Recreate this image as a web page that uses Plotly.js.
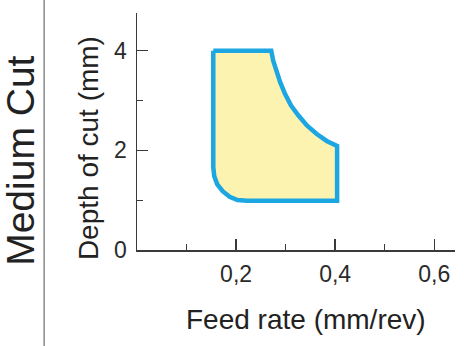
<!DOCTYPE html>
<html>
<head>
<meta charset="utf-8">
<script src="https://cdn.plot.ly/plotly-3.0.1.min.js"></script>
<style>
html,body{margin:0;padding:0;background:#fff;}
#chart{width:471px;height:346px;}
</style>
</head>
<body>
<div id="chart"></div>
<script>
// Outline of the "Medium Cut" working region (feed rate mm/rev, depth of cut mm)
const feedRate = [0.154, 0.271, 0.275, 0.281, 0.289, 0.299, 0.311, 0.326, 0.343, 0.363, 0.383, 0.404, 0.404,
                  0.222, 0.203, 0.187, 0.173, 0.162, 0.156, 0.154, 0.154];
const depthOfCut = [4.0, 4.0, 3.80, 3.60, 3.37, 3.13, 2.90, 2.70, 2.50, 2.33, 2.19, 2.09, 0.99,
                    0.99, 1.005, 1.07, 1.18, 1.32, 1.48, 1.66, 4.0];

const xTickVals = [0.2, 0.4, 0.6];
const xTickText = ["0,2", "0,4", "0,6"];
const yTickVals = [0, 2, 4];
const yTickText = ["0", "2", "4"];

const sectionLabel = "Medium Cut";
const xTitle = "Feed rate (mm/rev)";
const yTitle = "Depth of cut (mm)";

const font = "Liberation Sans, Arial, sans-serif";
const axisColor = "#3a3a3a";

const trace = {
  x: feedRate,
  y: depthOfCut,
  type: "scatter",
  mode: "lines",
  fill: "toself",
  fillcolor: "#fdf3b0",
  line: {color: "#1ca6e2", width: 4.5},
  hoverinfo: "skip"
};

const layout = {
  width: 471,
  height: 346,
  margin: {l: 137, r: 16, t: 13, b: 96},
  paper_bgcolor: "#ffffff",
  plot_bgcolor: "#ffffff",
  showlegend: false,
  xaxis: {
    range: [0, 0.642],
    showgrid: false,
    zeroline: false,
    showline: true,
    linecolor: axisColor,
    linewidth: 1.5,
    ticks: "inside",
    ticklen: 11,
    tickwidth: 1.3,
    tickcolor: axisColor,
    tickvals: xTickVals,
    ticktext: xTickText,
    tickfont: {family: font, size: 23, color: "#2a2a2a"},
    ticklabelstandoff: 3,
    minor: {dtick: 0.1, tick0: 0, ticks: "inside", ticklen: 6, tickwidth: 1.3, tickcolor: axisColor, showgrid: false},
    fixedrange: true
  },
  yaxis: {
    range: [0, 4.76],
    showgrid: false,
    zeroline: false,
    showline: true,
    linecolor: axisColor,
    linewidth: 1.5,
    ticks: "inside",
    ticklen: 11,
    tickwidth: 1.3,
    tickcolor: axisColor,
    tickvals: yTickVals,
    ticktext: yTickText,
    tickfont: {family: font, size: 23, color: "#2a2a2a"},
    ticklabelstandoff: 4,
    minor: {dtick: 1, tick0: 0, ticks: "inside", ticklen: 6, tickwidth: 1.3, tickcolor: axisColor, showgrid: false},
    fixedrange: true
  },
  shapes: [{
    type: "line",
    xref: "paper", yref: "paper",
    x0: -0.292, x1: -0.292, y0: -0.45, y1: 1.1,
    line: {color: "#8a8a8a", width: 1.5}
  }],
  annotations: [
    {
      text: sectionLabel, xref: "paper", yref: "paper",
      x: -0.365, y: 0.376, xanchor: "center", yanchor: "middle",
      textangle: -90, showarrow: false,
      font: {family: font, size: 39, color: "#222"}
    },
    {
      text: yTitle, xref: "paper", yref: "paper",
      x: -0.154, y: 0.43, xanchor: "center", yanchor: "middle",
      textangle: -90, showarrow: false,
      font: {family: font, size: 28, color: "#222"}
    },
    {
      text: xTitle, xref: "paper", yref: "paper",
      x: 0.531, y: -0.295, xanchor: "center", yanchor: "middle",
      showarrow: false,
      font: {family: font, size: 28, color: "#222"}
    }
  ]
};

Plotly.newPlot("chart", [trace], layout, {staticPlot: true, displayModeBar: false});
</script>
</body>
</html>
